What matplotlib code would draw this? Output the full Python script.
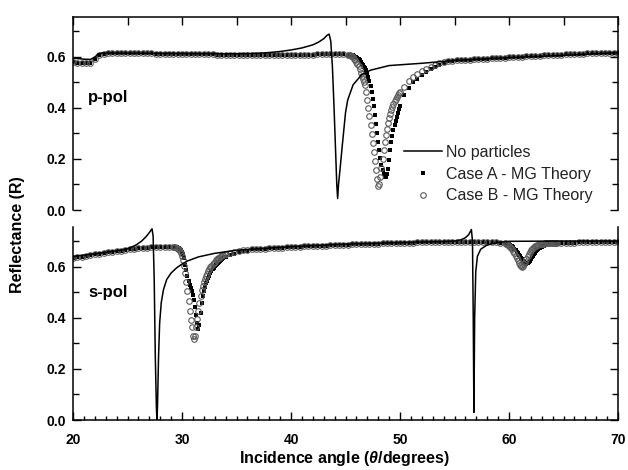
import numpy as np
import matplotlib
matplotlib.use('Agg')
import matplotlib.pyplot as plt
from matplotlib.ticker import MultipleLocator

plt.rcParams['font.family'] = ['Liberation Sans', 'DejaVu Sans']
plt.rcParams['mathtext.fontset'] = 'custom'
plt.rcParams['mathtext.it'] = 'Liberation Sans:italic:bold'
plt.rcParams['mathtext.rm'] = 'Liberation Sans:bold'

#####
# data (reflectance vs incidence angle)
#####

# --- p-pol, no particles (solid line)
pp_line_ang = [20.0, 21.0, 21.6, 22.0, 22.3, 22.6, 25.0, 30.0, 35.0, 37.0, 38.0, 39.0, 40.0, 41.0,
               42.0, 42.5, 43.0, 43.3, 43.5, 43.65, 43.8, 43.95, 44.1, 44.2, 44.28, 44.36, 44.5,
               44.7, 45.0, 45.2, 45.7, 46.5, 47.3, 49.0, 52.0, 55.0, 61.0, 65.0, 70.0]
pp_line_R = [0.594, 0.590, 0.589, 0.598, 0.610, 0.614, 0.614, 0.612, 0.611, 0.613, 0.616, 0.620, 0.626, 0.634,
             0.646, 0.656, 0.670, 0.683, 0.688, 0.660, 0.560, 0.400, 0.220, 0.100, 0.045, 0.100, 0.160,
             0.250, 0.380, 0.430, 0.490, 0.530, 0.547, 0.565, 0.574, 0.585, 0.598, 0.605, 0.616]

# --- p-pol markers: shared flat part 20.0..45.2 (step 0.4)
pp_flat_left = [0.578, 0.576, 0.574, 0.574, 0.577, 0.590, 0.606, 0.612, 0.614, 0.614,
                0.614, 0.614, 0.614, 0.614, 0.613, 0.613, 0.613, 0.613, 0.613, 0.612,
                0.612, 0.612, 0.612, 0.611, 0.611, 0.611, 0.610, 0.610, 0.610, 0.609,
                0.609, 0.609, 0.609, 0.608, 0.608, 0.608, 0.608, 0.608, 0.607, 0.607,
                0.607, 0.607, 0.607, 0.607, 0.607, 0.607, 0.607, 0.607, 0.607, 0.607,
                0.607, 0.608, 0.608, 0.608, 0.608, 0.608, 0.609, 0.609, 0.609, 0.609,
                0.609, 0.609, 0.609, 0.608]
# dip 45.3..50.0 (step 0.1)
ppA_dip = [0.608, 0.608, 0.607, 0.606, 0.605, 0.603, 0.600, 0.597, 0.594, 0.590,
           0.585, 0.579, 0.573, 0.567, 0.561, 0.554, 0.546, 0.535, 0.522, 0.505,
           0.485, 0.462, 0.435, 0.405, 0.372, 0.337, 0.300, 0.265, 0.233, 0.203,
           0.177, 0.155, 0.140, 0.131, 0.130, 0.140, 0.160, 0.195, 0.235, 0.265,
           0.290, 0.312, 0.332, 0.350, 0.365, 0.380, 0.394, 0.407]
ppB_dip = [0.607, 0.606, 0.604, 0.601, 0.597, 0.592, 0.587, 0.580, 0.571, 0.562,
           0.550, 0.537, 0.524, 0.512, 0.500, 0.488, 0.462, 0.432, 0.400, 0.366,
           0.332, 0.298, 0.262, 0.226, 0.190, 0.155, 0.120, 0.092, 0.100, 0.128,
           0.163, 0.200, 0.235, 0.265, 0.292, 0.317, 0.339, 0.358, 0.375, 0.390,
           0.403, 0.415, 0.425, 0.434, 0.442, 0.449, 0.456, 0.462]
# recovery 50.4..54.0 (step 0.4)
ppA_rec = [0.450, 0.479, 0.499, 0.514, 0.527, 0.539, 0.550, 0.560, 0.568, 0.575]
ppB_rec = [0.482, 0.504, 0.519, 0.531, 0.542, 0.552, 0.561, 0.568, 0.574, 0.579]
# shared flat part 54.4..70.0 (step 0.4)
pp_flat_right = [0.582, 0.584, 0.585, 0.586, 0.587, 0.588, 0.589, 0.590, 0.591, 0.592,
                 0.593, 0.594, 0.595, 0.596, 0.597, 0.598, 0.599, 0.600, 0.601, 0.602,
                 0.603, 0.604, 0.605, 0.606, 0.607, 0.608, 0.608, 0.609, 0.610, 0.611,
                 0.611, 0.612, 0.613, 0.613, 0.614, 0.614, 0.615, 0.615, 0.616, 0.616]

# --- s-pol, no particles (solid line)
sp_line_ang = [20.0, 21.0, 22.0, 23.0, 24.0, 24.6, 25.2, 25.8, 26.3, 26.7, 27.0, 27.25, 27.35,
               27.45, 27.55, 27.65, 27.7, 27.75, 27.85, 27.95, 28.1, 28.3, 28.6, 29.0, 29.5, 30.0,
               30.5, 31.5, 33.0, 35.0, 40.0, 45.0, 50.0, 54.0, 55.0, 55.6, 56.0, 56.3, 56.55,
               56.65, 56.72, 56.78, 56.85, 56.95, 57.1, 57.4, 58.0, 59.0, 60.0, 65.0, 70.0]
sp_line_R = [0.640, 0.645, 0.650, 0.656, 0.662, 0.666, 0.673, 0.685, 0.700, 0.717, 0.733, 0.748, 0.720,
             0.550, 0.250, 0.050, 0.000, 0.050, 0.250, 0.380, 0.460, 0.510, 0.550, 0.575, 0.595, 0.610,
             0.622, 0.638, 0.652, 0.664, 0.678, 0.688, 0.694, 0.698, 0.700, 0.705, 0.713, 0.725, 0.745,
             0.700, 0.400, 0.030, 0.400, 0.580, 0.640, 0.668, 0.685, 0.695, 0.699, 0.700, 0.700]

# --- s-pol markers: shared 20.0..29.2 (step 0.4)
sp_flat_left = [0.633, 0.636, 0.639, 0.642, 0.645, 0.648, 0.651, 0.654, 0.656, 0.659,
                0.661, 0.663, 0.665, 0.667, 0.669, 0.671, 0.673, 0.674, 0.675, 0.676,
                0.677, 0.678, 0.678, 0.677]
# first dip 29.3..34.0 (step 0.1)
spA_dip1 = [0.677, 0.676, 0.675, 0.673, 0.671, 0.668, 0.664, 0.658, 0.648, 0.632,
            0.608, 0.585, 0.565, 0.545, 0.527, 0.515, 0.505, 0.488, 0.468, 0.443,
            0.410, 0.378, 0.355, 0.372, 0.418, 0.456, 0.485, 0.505, 0.521, 0.534,
            0.545, 0.555, 0.565, 0.574, 0.582, 0.589, 0.595, 0.601, 0.606, 0.611,
            0.615, 0.619, 0.623, 0.627, 0.630, 0.633, 0.636, 0.639]
spB_dip1 = [0.676, 0.675, 0.673, 0.670, 0.667, 0.662, 0.654, 0.642, 0.626, 0.604,
            0.576, 0.540, 0.505, 0.465, 0.428, 0.393, 0.362, 0.330, 0.315, 0.330,
            0.362, 0.397, 0.428, 0.458, 0.484, 0.507, 0.525, 0.540, 0.552, 0.563,
            0.573, 0.582, 0.590, 0.598, 0.604, 0.610, 0.615, 0.620, 0.624, 0.628,
            0.632, 0.635, 0.638, 0.641, 0.644, 0.646, 0.648, 0.650]
# recovery 34.4..36.0 (step 0.4)
spA_rec = [0.645, 0.651, 0.656, 0.660, 0.663]
spB_rec = [0.654, 0.658, 0.661, 0.664, 0.666]
# shared 36.4..59.6 (step 0.4)
sp_flat_mid = [0.667, 0.668, 0.669, 0.670, 0.671, 0.672, 0.673, 0.674, 0.675, 0.676,
               0.677, 0.678, 0.679, 0.679, 0.680, 0.681, 0.682, 0.682, 0.683, 0.684,
               0.685, 0.685, 0.686, 0.687, 0.687, 0.688, 0.689, 0.689, 0.690, 0.690,
               0.691, 0.691, 0.692, 0.692, 0.693, 0.693, 0.694, 0.694, 0.695, 0.695,
               0.695, 0.696, 0.696, 0.696, 0.697, 0.697, 0.697, 0.697, 0.698, 0.698,
               0.698, 0.698, 0.698, 0.698, 0.698, 0.697, 0.696, 0.694, 0.691]
# second dip 59.7..64.4 (step 0.1)
spA_dip2 = [0.691, 0.690, 0.689, 0.687, 0.685, 0.682, 0.679, 0.675, 0.670, 0.665,
            0.659, 0.653, 0.647, 0.640, 0.634, 0.628, 0.622, 0.617, 0.614, 0.612,
            0.613, 0.617, 0.623, 0.630, 0.637, 0.643, 0.649, 0.655, 0.660, 0.664,
            0.668, 0.672, 0.675, 0.678, 0.680, 0.682, 0.684, 0.686, 0.687, 0.688,
            0.689, 0.690, 0.691, 0.691, 0.692, 0.692, 0.693, 0.693]
spB_dip2 = [0.690, 0.688, 0.685, 0.682, 0.678, 0.673, 0.667, 0.660, 0.652, 0.643,
            0.634, 0.625, 0.616, 0.608, 0.602, 0.600, 0.603, 0.610, 0.620, 0.630,
            0.640, 0.649, 0.657, 0.664, 0.669, 0.673, 0.677, 0.680, 0.682, 0.684,
            0.686, 0.687, 0.688, 0.689, 0.690, 0.690, 0.691, 0.691, 0.692, 0.692,
            0.692, 0.693, 0.693, 0.693, 0.693, 0.694, 0.694, 0.694]
# shared 64.8..70.0 (step 0.4)
sp_flat_right = [0.694, 0.694, 0.694, 0.694, 0.695, 0.695, 0.695, 0.695, 0.695, 0.695,
                 0.695, 0.695, 0.695, 0.695]


def grid(start, step, vals):
    # sampling angles for a block of values
    return start + step * np.arange(len(vals))


pp_ang = np.concatenate([grid(20.0, 0.4, pp_flat_left), grid(45.3, 0.1, ppA_dip),
                         grid(50.4, 0.4, ppA_rec), grid(54.4, 0.4, pp_flat_right)])
ppA = np.concatenate([pp_flat_left, ppA_dip, ppA_rec, pp_flat_right])
ppB = np.concatenate([pp_flat_left, ppB_dip, ppB_rec, pp_flat_right])

sp_ang = np.concatenate([grid(20.0, 0.4, sp_flat_left), grid(29.3, 0.1, spA_dip1),
                         grid(34.4, 0.4, spA_rec), grid(36.4, 0.4, sp_flat_mid),
                         grid(59.7, 0.1, spA_dip2), grid(64.8, 0.4, sp_flat_right)])
spA = np.concatenate([sp_flat_left, spA_dip1, spA_rec, sp_flat_mid, spA_dip2, sp_flat_right])
spB = np.concatenate([sp_flat_left, spB_dip1, spB_rec, sp_flat_mid, spB_dip2, sp_flat_right])

W, H = 628, 470
fig = plt.figure(figsize=(W / 100, H / 100), dpi=100)
ax1 = fig.add_axes([73 / W, 1 - 210 / H, 545 / W, 193 / H])
ax2 = fig.add_axes([73 / W, 1 - 420 / H, 545 / W, 193 / H])


def draw(ax, la, lr, ang, ra, rb):
    ax.plot(la, lr, color='black', lw=1.1, label='No particles', zorder=3)
    ax.plot(ang, ra, ls='none', marker='s', ms=2.4, color='black', mew=0,
            label='Case A - MG Theory', zorder=2)
    ax.plot(ang, rb, ls='none', marker='o', ms=4.0, mfc='none', mec='#5a5a5a', mew=0.8,
            label='Case B - MG Theory', zorder=2)
    ax.set_xlim(20, 70)
    ax.set_ylim(0, 0.755)
    ax.yaxis.set_major_locator(MultipleLocator(0.2))
    ax.yaxis.set_minor_locator(MultipleLocator(0.1))
    ax.tick_params(which='both', direction='in', width=1.0, labelsize=10,
                   left=True, right=True, pad=5)
    ax.tick_params(which='major', length=6)
    ax.tick_params(which='minor', length=4)
    for s in ax.spines.values():
        s.set_linewidth(1.1)
    for t in ax.get_yticklabels():
        t.set_fontweight('bold')


draw(ax1, pp_line_ang, pp_line_R, pp_ang, ppA, ppB)
draw(ax2, sp_line_ang, sp_line_R, sp_ang, spA, spB)

# top panel: no bottom spine, ticks along the top every 5 degrees
ax1.spines['bottom'].set_visible(False)
ax1.xaxis.set_major_locator(MultipleLocator(5))
ax1.tick_params(axis='x', which='both', bottom=False, labelbottom=False, top=True)
ax1.xaxis.set_minor_locator(MultipleLocator(100))

# bottom panel: no top spine, labelled ticks at 10, minor every degree
ax2.spines['top'].set_visible(False)
ax2.xaxis.set_major_locator(MultipleLocator(10))
ax2.xaxis.set_minor_locator(MultipleLocator(1))
ax2.tick_params(axis='x', which='both', top=False, pad=9)
ax2.tick_params(axis='x', which='minor', length=3)
for t in ax2.get_xticklabels():
    t.set_fontweight('bold')

ax1.text(21.4, 0.44, 'p-pol', fontsize=12, fontweight='bold', va='center')
ax2.text(21.4, 0.50, 's-pol', fontsize=12, fontweight='bold', va='center')

ax1.legend(loc='upper left', bbox_to_anchor=((404 - 73) / 545, (210 - 145) / 193),
           frameon=False, fontsize=11.5, handlelength=2.4, handletextpad=0.2,
           labelspacing=0.42, borderpad=0, borderaxespad=0, markerscale=1.0)
for t in ax1.get_legend().get_texts():
    t.set_color('#222222')

fig.text(18 / W, 1 - 235 / H, 'Reflectance (R)', rotation=90, ha='center', va='center',
         fontsize=11.5, fontweight='bold')
fig.text(345 / W, 1 - 459 / H, r'Incidence angle ($\theta$/degrees)', ha='center', va='center',
         fontsize=11.5, fontweight='bold')

fig.savefig('out.png', dpi=100)
